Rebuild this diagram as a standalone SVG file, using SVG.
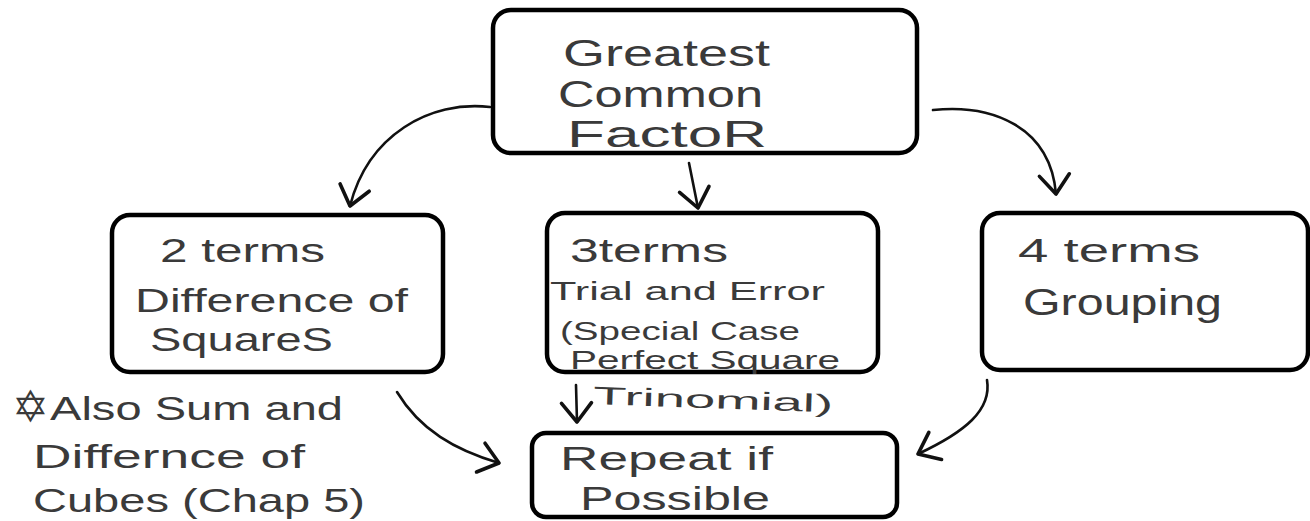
<svg xmlns="http://www.w3.org/2000/svg" width="1310" height="521" viewBox="0 0 1310 521">
  <defs>
    <style>
      .box { fill: #ffffff; stroke: #000000; stroke-width: 4.5; }
      .conn { fill: none; stroke: #111111; stroke-width: 2.6; stroke-linecap: round; }
      .t { font-family: "Liberation Sans", "DejaVu Sans", sans-serif; fill: #3a3a3a; }
      .big { font-size: 36px; }
      .mid { font-size: 33px; }
      .sm { font-size: 25px; }
    </style>
    <marker id="vhead" markerUnits="userSpaceOnUse" markerWidth="40" markerHeight="40" viewBox="-22 -20 26 40" refX="0" refY="0" orient="auto">
      <path d="M-19,-15 L0,0 L-19,15" fill="none" stroke="#111111" stroke-width="3.6" stroke-linecap="round" stroke-linejoin="round"/>
    </marker>
  </defs>
  <rect x="0" y="0" width="1310" height="521" fill="#ffffff"/>

  <g id="connectors">
    <path class="conn" d="M490,107 C430,100 368,135 350,206" marker-end="url(#vhead)"/>
    <path class="conn" d="M689,163 L698,208" marker-end="url(#vhead)"/>
    <path class="conn" d="M933,110 C990,104 1050,125 1056,194" marker-end="url(#vhead)"/>
    <path class="conn" d="M397,392 C420,430 455,450 499,463" marker-end="url(#vhead)"/>
    <path class="conn" d="M576,385 L577,422" marker-end="url(#vhead)"/>
    <path class="conn" d="M987,380 C992,410 965,432 918,454" marker-end="url(#vhead)"/>
  </g>

  <g id="node-gcf">
    <rect class="box" x="493" y="10" width="424" height="143" rx="18"/>
    <text class="t big" x="563" y="66" textLength="207" lengthAdjust="spacingAndGlyphs">Greatest</text>
    <text class="t big" x="558" y="107" textLength="205" lengthAdjust="spacingAndGlyphs">Common</text>
    <text class="t big" x="567" y="147" textLength="200" lengthAdjust="spacingAndGlyphs">FactoR</text>
  </g>

  <g id="node-2terms">
    <rect class="box" x="112" y="215" width="331" height="157" rx="18"/>
    <text class="t mid" x="160" y="262" textLength="165" lengthAdjust="spacingAndGlyphs">2 terms</text>
    <text class="t mid" x="135" y="312" textLength="273" lengthAdjust="spacingAndGlyphs">Difference of</text>
    <text class="t mid" x="150" y="351" textLength="183" lengthAdjust="spacingAndGlyphs">SquareS</text>
  </g>

  <g id="node-3terms">
    <rect class="box" x="547" y="213" width="331" height="159" rx="18"/>
    <text class="t mid" x="570" y="262" textLength="158" lengthAdjust="spacingAndGlyphs">3terms</text>
    <text class="t sm" x="550" y="300" textLength="275" lengthAdjust="spacingAndGlyphs">Trial and Error</text>
    <text class="t sm" x="560" y="340" textLength="240" lengthAdjust="spacingAndGlyphs">(Special Case</text>
    <text class="t sm" x="570" y="369" textLength="270" lengthAdjust="spacingAndGlyphs">Perfect Square</text>
    <text class="t sm" x="593" y="404" textLength="240" lengthAdjust="spacingAndGlyphs" transform="rotate(2 593 404)">Trinomial)</text>
  </g>

  <g id="node-4terms">
    <rect class="box" x="982" y="213" width="326" height="157" rx="18"/>
    <text class="t mid" x="1018" y="262" textLength="182" lengthAdjust="spacingAndGlyphs">4 terms</text>
    <text class="t big" x="1023" y="315" textLength="199" lengthAdjust="spacingAndGlyphs">Grouping</text>
  </g>

  <g id="node-repeat">
    <rect class="box" x="532" y="433" width="365" height="84" rx="14"/>
    <text class="t mid" x="560" y="470" textLength="213" lengthAdjust="spacingAndGlyphs">Repeat if</text>
    <text class="t mid" x="580" y="510" textLength="190" lengthAdjust="spacingAndGlyphs">Possible</text>
  </g>

  <g id="note">
    <text class="t" x="12" y="422" font-size="44" font-family="DejaVu Sans, sans-serif">✡</text>
    <text class="t mid" x="50" y="420" textLength="293" lengthAdjust="spacingAndGlyphs">Also Sum and</text>
    <text class="t mid" x="33" y="468" textLength="272" lengthAdjust="spacingAndGlyphs">Differnce of</text>
    <text class="t mid" x="33" y="512" textLength="332" lengthAdjust="spacingAndGlyphs">Cubes (Chap 5)</text>
  </g>
</svg>
